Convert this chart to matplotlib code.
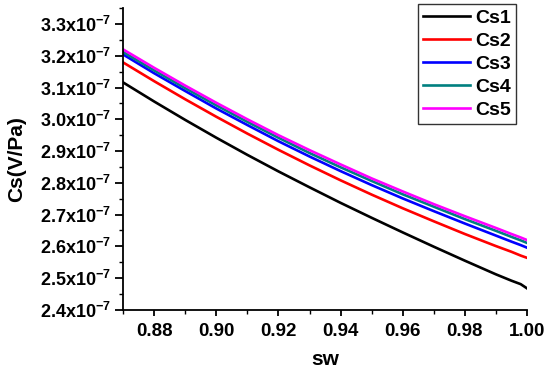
import matplotlib
matplotlib.use("Agg")
import matplotlib.pyplot as plt
from matplotlib.ticker import MultipleLocator, FuncFormatter

plt.rcParams['font.family'] = ['Liberation Sans', 'DejaVu Sans']
plt.rcParams['font.weight'] = 'bold'
plt.rcParams['mathtext.fontset'] = 'custom'
plt.rcParams['mathtext.rm'] = 'Liberation Sans:bold'
plt.rcParams['mathtext.bf'] = 'Liberation Sans:bold'
plt.rcParams['mathtext.default'] = 'rm'

sw = [0.87, 0.88, 0.89, 0.90, 0.91, 0.92, 0.93, 0.94, 0.95, 0.96, 0.97, 0.98, 0.99, 0.995, 0.998, 1.00]
cs1 = [3.116, 3.056, 2.998, 2.942, 2.888, 2.836, 2.786, 2.737, 2.690, 2.644, 2.599, 2.555, 2.512, 2.492, 2.481, 2.468]
cs2 = [3.179, 3.120, 3.063, 3.008, 2.955, 2.904, 2.855, 2.808, 2.763, 2.720, 2.679, 2.639, 2.601, 2.583, 2.571, 2.564]
cs3 = [3.204, 3.145, 3.089, 3.034, 2.982, 2.931, 2.883, 2.837, 2.793, 2.751, 2.711, 2.672, 2.634, 2.615, 2.604, 2.596]
cs4 = [3.212, 3.154, 3.098, 3.044, 2.992, 2.942, 2.894, 2.849, 2.806, 2.764, 2.725, 2.686, 2.649, 2.630, 2.619, 2.611]
cs5 = [3.220, 3.162, 3.106, 3.052, 3.000, 2.950, 2.903, 2.858, 2.814, 2.773, 2.733, 2.695, 2.658, 2.639, 2.628, 2.620]
labels = ['Cs1', 'Cs2', 'Cs3', 'Cs4', 'Cs5']
colors = ['#000000', '#ff0000', '#0000ff', '#008080', '#ff00ff']
series = [cs1, cs2, cs3, cs4, cs5]
scale = 1e-7

fig = plt.figure(figsize=(5.5, 3.72), dpi=100)
ax = fig.add_axes([0.224, 0.167, 0.734, 0.811])

for s, lab, c in zip(series, labels, colors):
    ax.plot(sw, [v * scale for v in s], color=c, lw=1.9, label=lab)

ax.set_xlim(0.87, 1.00)
ax.set_ylim(2.4e-7, 3.35e-7)
ax.xaxis.set_major_locator(MultipleLocator(0.02))
ax.xaxis.set_minor_locator(MultipleLocator(0.01))
ax.yaxis.set_major_locator(MultipleLocator(0.1e-7))
ax.yaxis.set_minor_locator(MultipleLocator(0.05e-7))
ax.xaxis.set_major_formatter(FuncFormatter(lambda v, p: f"{v:.2f}"))
ax.yaxis.set_major_formatter(FuncFormatter(lambda v, p: f"{v/1e-7:.1f}x10$^{{-7}}$"))

for sp in ['top', 'right']:
    ax.spines[sp].set_visible(False)
for sp in ['left', 'bottom']:
    ax.spines[sp].set_linewidth(1.3)

ax.tick_params(axis='x', which='major', direction='out', length=4.5, width=1.3, labelsize=13.5, pad=5)
ax.tick_params(axis='y', which='major', direction='out', length=6, width=1.3, labelsize=13, pad=3)
ax.tick_params(axis='both', which='minor', direction='out', length=3, width=1.0)
for t in ax.get_xticklabels() + ax.get_yticklabels():
    t.set_fontweight('bold')

ax.set_xlabel('sw', fontsize=15, fontweight='bold', labelpad=7)
ax.set_ylabel('Cs(V/Pa)', fontsize=15, fontweight='bold', labelpad=10)

leg = ax.legend(loc='upper right', bbox_to_anchor=(0.973, 1.013), frameon=True, fancybox=False,
                edgecolor='black', fontsize=14, handlelength=2.4, handletextpad=0.3,
                borderpad=0.25, labelspacing=0.28, borderaxespad=0)
leg.get_frame().set_linewidth(1.0)
for t in leg.get_texts():
    t.set_fontweight('bold')

fig.savefig('out.png', dpi=100)
